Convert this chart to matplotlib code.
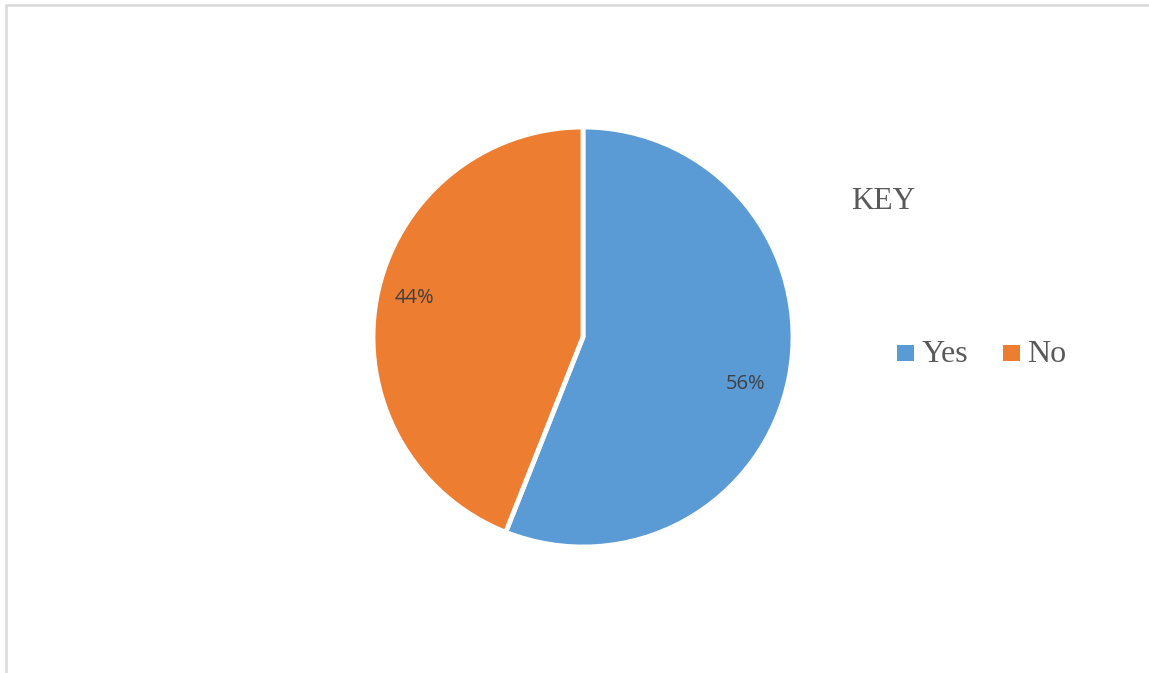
import matplotlib
matplotlib.use("Agg")
import matplotlib.pyplot as plt
from matplotlib.patches import Rectangle

# Survey answers and their shares (percent)
categories = ["Yes", "No"]
shares = [56, 44]
colors = ["#5B9BD5", "#ED7D31"]
legend_title = "KEY"

W, H = 1149, 673
fig = plt.figure(figsize=(W / 100, H / 100), dpi=100)
ax = fig.add_axes([0, 0, 1, 1])

wedges, texts, autotexts = ax.pie(
    shares,
    colors=colors,
    startangle=90,
    counterclock=False,
    center=(583, H - 337),
    radius=210,
    frame=True,
    autopct=lambda p: f"{p:.0f}%",
    wedgeprops=dict(edgecolor="white", linewidth=3.5),
    textprops=dict(family="Open Sans", fontsize=14.5, color="#404040"),
)

# Percentage label placement inside each slice
label_pos = [(746, H - 384), (414, H - 298)]
for t, pos in zip(autotexts, label_pos):
    t.set_position(pos)
    t.set_ha("center")
    t.set_va("center")

ax.set_xlim(0, W)
ax.set_ylim(0, H)
ax.set_aspect("equal")
ax.axis("off")

# Outer chart frame (top and left edges visible)
ax.add_patch(Rectangle((6, -20), W + 40, H - 4.5 + 20, fill=False,
                       edgecolor="#d9d9d9", linewidth=1.8, clip_on=False))

# Key
serif = "Liberation Serif"
ax.text(851, H - 209, legend_title, family=serif, fontsize=22.5,
        color="#595959", ha="left", va="baseline")

swatch_x = [897, 1003]
text_x = [922, 1027]
for name, c, sx, tx in zip(categories, colors, swatch_x, text_x):
    ax.add_patch(Rectangle((sx, H - 361), 16.5, 16.5, facecolor=c,
                           edgecolor="none"))
    ax.text(tx, H - 362, name, family=serif, fontsize=23,
            color="#595959", ha="left", va="baseline")

fig.savefig("out.png", dpi=100, facecolor="white")
